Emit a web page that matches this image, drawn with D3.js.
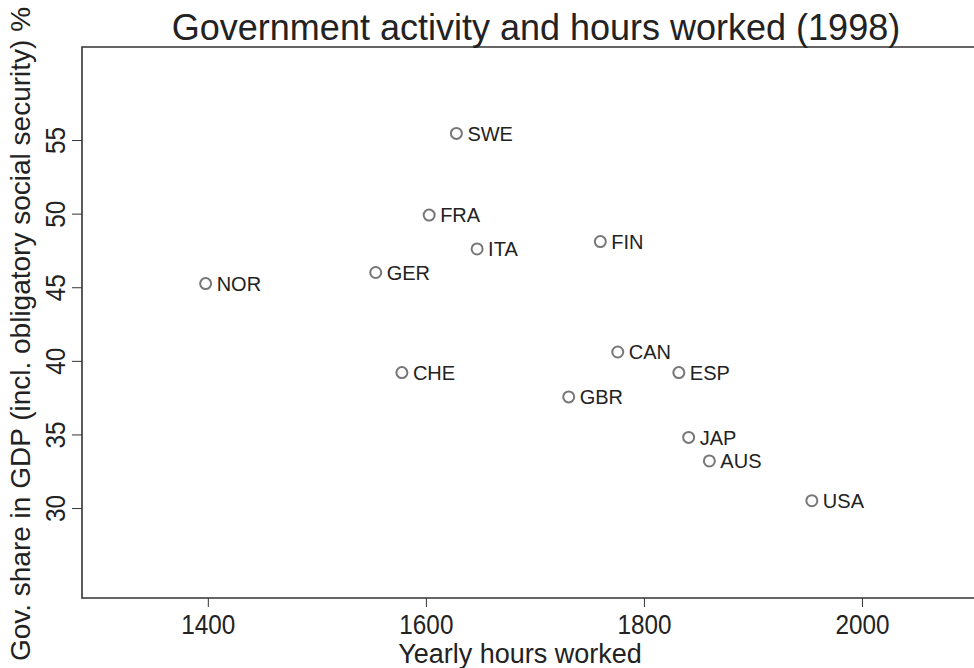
<!DOCTYPE html>
<html>
<head>
<meta charset="utf-8">
<script src="https://cdn.jsdelivr.net/npm/d3@7"></script>
<style>
  html, body { margin: 0; padding: 0; background: #fff; }
  svg { display: block; font-family: "Liberation Sans", Arial, Helvetica, sans-serif; }
</style>
</head>
<body>
<svg id="chart" width="974" height="668"></svg>
<script>
const countries = ["SWE","FRA","ITA","FIN","GER","NOR","CAN","ESP","CHE","GBR","JAP","AUS","USA"];
const hoursWorked = [1628, 1603, 1647, 1760, 1554, 1398, 1776, 1832, 1578, 1731, 1841, 1860, 1954];
const govShare = [55.45, 49.9, 47.6, 48.1, 46.0, 45.25, 40.6, 39.2, 39.2, 37.55, 34.8, 33.2, 30.5];
const xTicks = [1400, 1600, 1800, 2000];
const yTicks = [30, 35, 40, 45, 50, 55];
const titleText = "Government activity and hours worked (1998)";
const xTitle = "Yearly hours worked";
const yTitle = "Gov. share in GDP (incl. obligatory social security) %";

const svg = d3.select("#chart");
const mLeft = 82, mRight = 990, mTop = 47, mBottom = 598;

const x = d3.scaleLinear().domain([1284.6, 2117.4]).range([mLeft, mRight]);
const y = d3.scaleLinear().domain([23.89, 61.32]).range([mBottom, mTop]);

const ink = "#333";
const tickFont = 27, squeeze = 0.9;

// frame (top, left, bottom)
svg.append("path")
  .attr("d", `M${mRight},${mTop}H${mLeft}V${mBottom}H${mRight}`)
  .attr("fill", "none").attr("stroke", ink).attr("stroke-width", 1.6);

// x axis
const xAxis = d3.axisBottom(x).tickValues(xTicks).tickSize(9).tickPadding(0).tickFormat(d3.format("d"));
const gx = svg.append("g").attr("transform", `translate(0,${mBottom})`).call(xAxis);
gx.select(".domain").remove();
gx.selectAll(".tick line").attr("stroke", ink).attr("stroke-width", 1);
gx.selectAll(".tick text").attr("fill", "#222").attr("font-size", tickFont)
  .attr("font-family", "Liberation Sans, Arial, sans-serif")
  .attr("y", null).attr("dy", null)
  .attr("transform", `translate(0,36) scale(${squeeze},1)`);

// y axis
const yAxis = d3.axisLeft(y).tickValues(yTicks).tickSize(10).tickPadding(0).tickFormat(d3.format("d"));
const gy = svg.append("g").attr("transform", `translate(${mLeft},0)`).call(yAxis);
gy.select(".domain").remove();
gy.selectAll(".tick line").attr("stroke", ink).attr("stroke-width", 1);
gy.selectAll(".tick text")
  .attr("fill", "#222").attr("font-size", tickFont)
  .attr("font-family", "Liberation Sans, Arial, sans-serif")
  .attr("x", null).attr("dy", null)
  .attr("text-anchor", "middle")
  .attr("transform", `translate(-17,0) rotate(-90) scale(${squeeze},1)`);

// titles
svg.append("text").attr("x", 536).attr("y", 40).attr("text-anchor", "middle")
  .attr("font-size", 36).attr("fill", "#222").text(titleText);
svg.append("text").attr("x", 520).attr("y", 663).attr("text-anchor", "middle")
  .attr("font-size", 27).attr("fill", "#222").text(xTitle);
svg.append("text").attr("transform", `translate(30,${334}) rotate(-90)`).attr("text-anchor", "middle")
  .attr("font-size", 28).attr("fill", "#222").text(yTitle);

// points
const data = countries.map((c, i) => ({c, h: hoursWorked[i], g: govShare[i]}));
const pts = svg.append("g");
pts.selectAll("circle").data(data).join("circle")
  .attr("cx", d => x(d.h)).attr("cy", d => y(d.g)).attr("r", 5.5)
  .attr("fill", "none").attr("stroke", "#777").attr("stroke-width", 2);
pts.selectAll("text").data(data).join("text")
  .attr("x", d => x(d.h) + 11).attr("y", d => y(d.g)).attr("dy", "0.36em")
  .attr("font-size", 20).attr("fill", "#222").text(d => d.c);
</script>
</body>
</html>
